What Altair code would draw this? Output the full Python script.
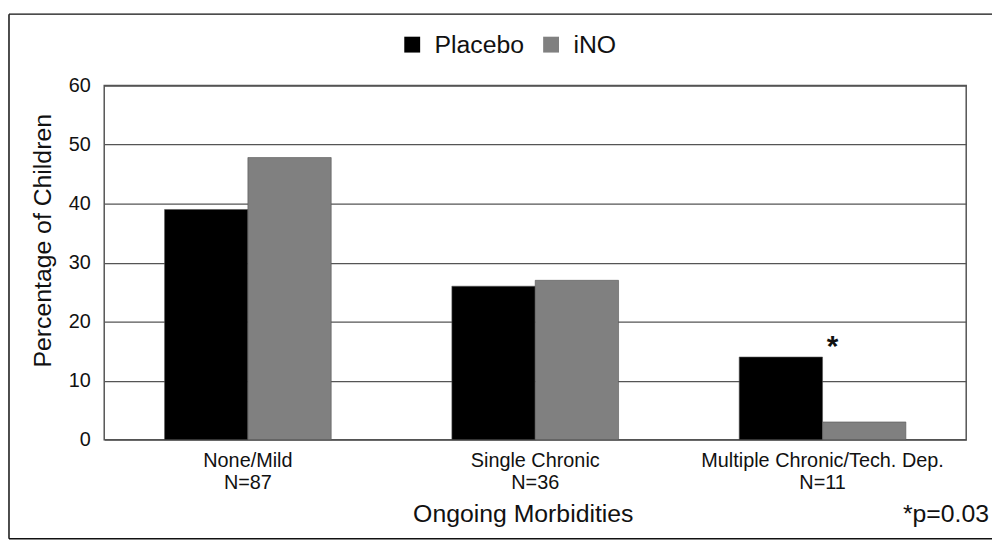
import json
import altair as alt
import pandas as pd

categories = ["None/Mild", "Single Chronic", "Multiple Chronic/Tech. Dep."]
group_n = [87, 36, 11]
series = ["Placebo", "iNO"]
placebo = [39, 26, 14]
ino = [47.8, 27, 3]
sig_category = "Multiple Chronic/Tech. Dep."
sig_y = 17
p_note = "*p=0.03"

rows = []
for c, p, i in zip(categories, placebo, ino):
    rows.append({"category": c, "series": "Placebo", "value": p})
    rows.append({"category": c, "series": "iNO", "value": i})
df = pd.DataFrame(rows)

FONT = "Liberation Sans"
W, H = 869, 357

n_lookup = json.dumps({c: f"N={n}" for c, n in zip(categories, group_n)})

x_enc = alt.X(
    "category:N",
    sort=categories,
    scale=alt.Scale(paddingInner=0.42, paddingOuter=0.21),
    axis=alt.Axis(
        title="Ongoing Morbidities",
        labelExpr=f"[datum.label, {n_lookup}[datum.label]]",
        labelAngle=0,
        labelFontSize=20,
        labelLineHeight=22,
        labelPadding=11,
        labelLimit=600,
        labelColor="#111",
        ticks=False,
        tickSize=0,
        domain=False,
        titleFontSize=25,
        titleFontWeight="normal",
        titleColor="#111",
        titlePadding=10,
        titleX=422,
    ),
)

bars = alt.Chart(df).mark_bar(stroke="#555", strokeWidth=0.6).encode(
    x=x_enc,
    xOffset=alt.XOffset("series:N", sort=series, scale=alt.Scale(paddingInner=0, paddingOuter=0)),
    y=alt.Y(
        "value:Q",
        scale=alt.Scale(domain=[0, 60], nice=False),
        axis=alt.Axis(
            title="Percentage of Children",
            values=[0, 10, 20, 30, 40, 50, 60],
            labelFontSize=20,
            labelColor="#111",
            labelPadding=14,
            ticks=False,
            tickSize=0,
            domain=False,
            grid=True,
            gridColor="#555",
            gridWidth=1.3,
            titleFontSize=25,
            titleFontWeight="normal",
            titleColor="#111",
            titleAngle=270,
            titleAlign="center",
            titleBaseline="middle",
            titleX=-62,
            titleY=156,
        ),
    ),
    color=alt.Color(
        "series:N",
        sort=series,
        scale=alt.Scale(domain=series, range=["#000000", "#808080"]),
        legend=alt.Legend(
            title=None,
            orient="none",
            legendX=298,
            legendY=-54,
            direction="horizontal",
            columns=2,
            symbolType="square",
            symbolSize=256,
            symbolStrokeWidth=0,
            labelFontSize=25,
            labelColor="#111",
            labelOffset=10,
            columnPadding=14,
            padding=0,
        ),
    ),
)

star = alt.Chart(pd.DataFrame({"category": [sig_category], "y": [sig_y], "t": ["*"]})).mark_text(
    font=FONT, fontSize=30, fontWeight="bold", color="#111", dx=10, baseline="middle", dy=8
).encode(x=alt.X("category:N", sort=categories), y="y:Q", text="t:N")

note = alt.Chart(pd.DataFrame({"t": [p_note]})).mark_text(
    font=FONT, fontSize=25, color="#111", align="right", baseline="alphabetic"
).encode(x=alt.value(892), y=alt.value(440), text="t:N")

one = pd.DataFrame({"a": [0]})
border_top = alt.Chart(one).mark_rule(color="#111", strokeWidth=1.5).encode(
    x=alt.value(-96), x2=alt.value(895), y=alt.value(-72)
)
border_left = alt.Chart(one).mark_rule(color="#111", strokeWidth=1.5).encode(
    x=alt.value(-96), y=alt.value(-72), y2=alt.value(457)
)
border_bottom = alt.Chart(one).mark_rule(color="#111", strokeWidth=1.5).encode(
    x=alt.value(-96), x2=alt.value(895), y=alt.value(457)
)

chart = (
    alt.layer(bars, star, note, border_top, border_left, border_bottom)
    .properties(
        width=W,
        height=H,
        autosize=alt.AutoSizeParams(type="none"),
        padding={"left": 97, "top": 76, "right": 26, "bottom": 103},
    )
    .configure(font=FONT)
    .configure_view(stroke="#555", strokeWidth=1.5)
    .configure_axis(labelFont=FONT, titleFont=FONT)
    .configure_legend(labelFont=FONT)
)

chart.save("out.html", embed_options={"renderer": "svg", "actions": False})
